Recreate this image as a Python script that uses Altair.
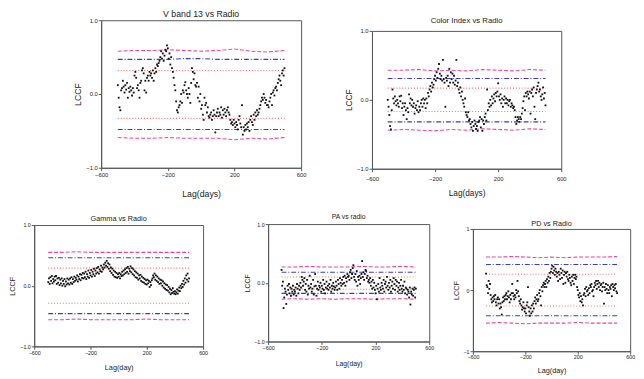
import altair as alt
import pandas as pd

FONT = "Liberation Sans"
TXT = "#222222"
FRAME = "#555555"

LAGS = list(range(-500, 501, 5))
BAND_LAGS = [-500, -400, -300, -200, -100, 0, 100, 200, 300, 400, 500]

# ---------------- Panel 1: V band 13 vs Radio ----------------
v_ccf = [
    0.12, -0.05, -0.18, -0.22, 0.05, 0.08, 0.18, 0.10, 0.02, 0.12,
    0.06, 0.15, -0.05, 0.08, 0.03, 0.10, 0.05, -0.02, 0.08, 0.02,
    0.25, 0.30, 0.22, 0.08, 0.12, 0.05, -0.05, 0.15, 0.18, 0.32,
    0.35, 0.28, 0.05, 0.18, 0.02, 0.22, 0.25, 0.18, 0.30, 0.25,
    0.28, 0.22, 0.32, 0.18, 0.28, 0.35, 0.30, 0.40, 0.38, 0.42,
    0.45, 0.50, 0.58, 0.48, 0.55, 0.45, 0.52, 0.60, 0.58, 0.66,
    0.62, 0.48, 0.55, 0.40, 0.50, 0.35, 0.30, 0.22, 0.12, 0.05,
    -0.10, -0.22, -0.25, -0.18, -0.15, -0.10, 0.00, -0.12, 0.05, 0.02,
    0.12, 0.16, 0.05, 0.00, -0.05, 0.08, 0.00, -0.12, 0.15, 0.35,
    0.30, 0.20, 0.28, 0.12, 0.10, 0.15, -0.05, 0.10, -0.10, 0.00,
    -0.20, -0.15, -0.28, -0.35, -0.05, -0.15, -0.12, -0.25, -0.18, -0.30,
    -0.32, -0.28, -0.25, -0.35, -0.30, -0.22, -0.28, -0.52, -0.30, -0.25,
    -0.20, -0.30, -0.25, -0.28, -0.18, -0.32, -0.22, -0.28, -0.20, -0.25,
    -0.30, -0.22, -0.18, -0.25, -0.28, -0.35, -0.40, -0.38, -0.42, -0.35,
    -0.40, -0.45, -0.38, -0.42, -0.48, -0.35, -0.30, -0.40, -0.45, -0.15,
    -0.55, -0.45, -0.50, -0.42, -0.48, -0.40, -0.45, -0.38, -0.50, -0.35,
    -0.30, -0.38, -0.42, -0.28, -0.35, -0.25, -0.30, -0.22, -0.28, -0.25,
    -0.20, -0.15, -0.10, -0.05, -0.08, 0.00, -0.05, -0.12, -0.08, -0.15,
    -0.15, -0.18, -0.10, -0.05, 0.00, -0.15, 0.02, 0.05, -0.02, 0.08,
    0.10, 0.05, 0.15, 0.20, 0.25, 0.18, 0.12, 0.28, 0.32, 0.25,
    0.35,
]
v_pink_up = [0.58, 0.59, 0.59, 0.60, 0.59, 0.58, 0.59, 0.61, 0.58, 0.57, 0.59]
v_pink_lo = [-0.59, -0.60, -0.60, -0.59, -0.60, -0.60, -0.60, -0.62, -0.60, -0.61, -0.59]
v_blue_up = [0.47, 0.47, 0.47, 0.47, 0.48, 0.48, 0.47, 0.47, 0.47, 0.47, 0.47]
v_blue_lo = [-0.48, -0.48, -0.48, -0.48, -0.48, -0.48, -0.48, -0.48, -0.48, -0.48, -0.48]
v_red_up = [0.32, 0.32, 0.32, 0.32, 0.32, 0.32, 0.32, 0.32, 0.32, 0.32, 0.32]
v_red_lo = [-0.33, -0.33, -0.33, -0.33, -0.33, -0.33, -0.33, -0.33, -0.33, -0.33, -0.33]

# ---------------- Panel 2: Color Index vs Radio ----------------
c_ccf = [
    0.00, -0.10, -0.22, -0.38, -0.43, -0.15, 0.15, 0.02, -0.05, 0.05,
    -0.02, -0.08, 0.00, -0.05, -0.10, 0.05, -0.02, 0.06, -0.12, -0.05,
    -0.22, -0.10, -0.05, -0.15, -0.28, -0.12, -0.18, 0.08, -0.05, 0.02,
    -0.08, 0.00, -0.10, -0.05, -0.20, -0.12, -0.08, -0.15, -0.02, -0.18,
    -0.10, -0.15, -0.05, 0.00, -0.10, 0.02, -0.05, 0.00, -0.12, 0.02,
    -0.05, 0.10, 0.05, 0.15, 0.20, 0.12, 0.25, 0.18, 0.22, 0.30,
    0.35, 0.28, 0.40, 0.32, 0.45, 0.52, 0.38, 0.30, 0.35, 0.28,
    0.58, 0.30, 0.25, -0.10, 0.32, 0.28, 0.35, 0.20, 0.45, 0.25,
    0.40, 0.30, 0.38, 0.25, 0.35, 0.22, 0.28, 0.58, 0.20, 0.25,
    0.15, 0.10, 0.18, 0.05, 0.12, 0.00, -0.05, -0.10, 0.02, -0.18,
    -0.22, -0.25, -0.18, -0.30, -0.28, -0.35, -0.40, -0.32, -0.45, -0.38,
    -0.30, -0.35, -0.42, -0.38, -0.45, -0.32, -0.30, -0.25, -0.40, -0.28,
    -0.45, -0.30, -0.35, -0.25, -0.20, -0.30, 0.15, -0.15, -0.05, -0.10,
    0.00, -0.08, 0.05, -0.05, 0.02, 0.08, -0.02, 0.10, 0.05, 0.12,
    0.24, 0.05, 0.00, 0.08, -0.05, 0.02, -0.10, 0.00, 0.05, -0.05,
    0.02, -0.05, 0.00, -0.08, -0.02, 0.00, -0.10, -0.05, -0.08, -0.12,
    -0.10, -0.15, -0.25, -0.35, -0.30, -0.25, -0.28, -0.32, -0.25, -0.28,
    -0.20, -0.12, -0.02, 0.05, -0.15, 0.10, 0.05, 0.12, 0.08, 0.02,
    0.12, -0.20, 0.10, 0.15, 0.05, 0.18, -0.10, -0.28, 0.10, 0.15,
    0.20, 0.25, 0.12, 0.15, 0.05, 0.00, 0.08, 0.18, 0.02, 0.10,
    -0.08,
]
c_pink_up = [0.43, 0.43, 0.44, 0.42, 0.43, 0.42, 0.44, 0.43, 0.42, 0.44, 0.43]
c_pink_lo = [-0.44, -0.43, -0.44, -0.45, -0.43, -0.44, -0.42, -0.43, -0.44, -0.42, -0.43]
c_blue_up = [0.31, 0.31, 0.31, 0.31, 0.31, 0.31, 0.31, 0.31, 0.31, 0.31, 0.31]
c_blue_lo = [-0.32, -0.32, -0.32, -0.32, -0.32, -0.32, -0.32, -0.32, -0.32, -0.32, -0.32]
c_red_up = [0.17, 0.17, 0.17, 0.17, 0.17, 0.17, 0.17, 0.17, 0.17, 0.17, 0.17]
c_red_lo = [-0.17, -0.17, -0.17, -0.17, -0.17, -0.17, -0.17, -0.17, -0.17, -0.17, -0.17]

# ---------------- Panel 3: Gamma vs Radio ----------------
g_ccf = [
    0.06, 0.12, 0.03, 0.14, 0.08, 0.16, 0.04, 0.11, 0.07, 0.15,
    0.09, 0.16, 0.03, 0.12, 0.05, 0.13, 0.01, 0.10, 0.04, 0.12,
    0.00, 0.08, 0.03, 0.11, -0.01, 0.07, 0.02, 0.12, 0.04, 0.10,
    0.02, 0.12, 0.05, 0.14, 0.03, 0.11, 0.06, 0.15, 0.08, 0.13,
    0.10, 0.17, 0.07, 0.15, 0.11, 0.19, 0.09, 0.18, 0.13, 0.21,
    0.12, 0.20, 0.14, 0.23, 0.11, 0.19, 0.15, 0.25, 0.13, 0.21,
    0.17, 0.26, 0.15, 0.23, 0.19, 0.28, 0.16, 0.25, 0.20, 0.29,
    0.22, 0.31, 0.20, 0.27, 0.24, 0.33, 0.23, 0.30, 0.27, 0.35,
    0.30, 0.38, 0.33, 0.41, 0.31, 0.37, 0.28, 0.35, 0.24, 0.30,
    0.21, 0.28, 0.18, 0.25, 0.15, 0.23, 0.14, 0.21, 0.13, 0.19,
    0.15, 0.21, 0.12, 0.19, 0.16, 0.23, 0.17, 0.25, 0.19, 0.27,
    0.21, 0.29, 0.23, 0.31, 0.20, 0.28, 0.24, 0.32, 0.22, 0.29,
    0.19, 0.27, 0.17, 0.24, 0.14, 0.22, 0.13, 0.20, 0.10, 0.17,
    0.12, 0.18, 0.08, 0.15, 0.06, 0.13, 0.05, 0.11, 0.03, 0.09,
    0.02, 0.10, 0.04, 0.08, -0.02, 0.06, 0.01, 0.09, 0.12, 0.17,
    0.14, 0.20, 0.10, 0.17, 0.08, 0.15, 0.06, 0.12, 0.03, 0.10,
    0.04, 0.09, 0.00, 0.07, -0.03, 0.04, -0.05, 0.02, -0.07, 0.01,
    -0.08, -0.02, -0.11, -0.05, -0.14, -0.07, -0.12, -0.04, -0.10, -0.13,
    -0.09, -0.14, -0.11, -0.06, -0.13, -0.08, -0.03, -0.09, 0.00, -0.04,
    0.03, -0.02, 0.08, 0.02, 0.12, 0.05, 0.17, 0.10, 0.20, 0.07,
    0.12,
]
g_pink_up = [0.55, 0.55, 0.56, 0.55, 0.55, 0.55, 0.55, 0.55, 0.55, 0.55, 0.55]
g_pink_lo = [-0.56, -0.56, -0.55, -0.56, -0.56, -0.56, -0.56, -0.55, -0.56, -0.56, -0.56]
g_blue_up = [0.46, 0.46, 0.46, 0.46, 0.46, 0.46, 0.46, 0.46, 0.46, 0.46, 0.46]
g_blue_lo = [-0.46, -0.46, -0.46, -0.46, -0.46, -0.46, -0.46, -0.46, -0.46, -0.46, -0.46]
g_red_up = [0.29, 0.29, 0.29, 0.29, 0.29, 0.29, 0.29, 0.29, 0.29, 0.29, 0.29]
g_red_lo = [-0.29, -0.29, -0.29, -0.29, -0.29, -0.29, -0.29, -0.29, -0.29, -0.29, -0.29]

# ---------------- Panel 4: PA vs radio ----------------
pa_ccf = [
    0.22, -0.05, 0.02, -0.43, -0.25, -0.10, -0.15, -0.36, -0.20, -0.05,
    -0.12, -0.02, -0.18, -0.08, -0.22, -0.10, -0.15, -0.05, -0.20, -0.12,
    -0.15, -0.08, -0.22, -0.02, -0.10, -0.18, -0.05, -0.12, 0.00, -0.08,
    0.10, 0.05, -0.05, 0.02, 0.08, -0.12, -0.02, -0.15, 0.05, -0.20,
    -0.05, -0.10, 0.12, -0.08, -0.02, -0.15, -0.10, 0.05, -0.20, -0.06,
    0.15, -0.05, -0.22, -0.10, 0.02, -0.12, -0.05, -0.08, 0.00, -0.15,
    -0.05, -0.10, 0.05, -0.12, -0.02, -0.18, -0.08, 0.02, -0.10, -0.05,
    -0.12, -0.02, -0.08, 0.05, -0.15, -0.05, -0.10, 0.00, -0.06, -0.12,
    -0.08, 0.02, -0.05, -0.12, 0.05, -0.02, -0.10, 0.08, 0.00, -0.05,
    0.05, -0.02, 0.10, 0.00, 0.12, -0.05, 0.08, 0.02, 0.15, 0.10,
    0.12, 0.05, 0.18, 0.22, 0.08, 0.15, 0.25, 0.30, 0.10, 0.05,
    0.15, 0.02, 0.20, -0.05, 0.10, 0.05, 0.12, -0.02, 0.08, 0.15,
    0.37, 0.10, 0.18, 0.05, 0.15, 0.22, 0.20, 0.08, 0.12, 0.02,
    0.05, 0.00, 0.08, -0.05, 0.02, -0.10, 0.05, -0.08, 0.00, -0.12,
    -0.18, -0.05, -0.28, -0.10, -0.02, -0.15, 0.08, -0.08, -0.12, 0.00,
    -0.05, -0.10, 0.05, -0.15, -0.02, 0.02, -0.08, 0.10, -0.05, -0.12,
    0.00, -0.08, 0.05, -0.15, -0.05, 0.02, -0.10, 0.08, -0.02, -0.12,
    0.05, -0.05, 0.02, -0.15, -0.08, 0.00, -0.12, -0.05, 0.05, -0.10,
    -0.15, -0.05, -0.12, 0.02, -0.18, -0.08, -0.10, -0.20, -0.12, -0.15,
    -0.25, -0.08, -0.37, -0.15, -0.20, -0.10, -0.22, -0.12, -0.08, -0.25,
    -0.10,
]
pa_pink_up = [0.27, 0.27, 0.28, 0.27, 0.27, 0.27, 0.28, 0.27, 0.27, 0.28, 0.27]
pa_pink_lo = [-0.28, -0.27, -0.28, -0.27, -0.28, -0.27, -0.27, -0.28, -0.27, -0.27, -0.28]
pa_blue_up = [0.18, 0.18, 0.18, 0.18, 0.18, 0.18, 0.18, 0.18, 0.18, 0.18, 0.18]
pa_blue_lo = [-0.18, -0.18, -0.18, -0.18, -0.18, -0.18, -0.18, -0.18, -0.18, -0.18, -0.18]
pa_red_up = [0.10, 0.10, 0.10, 0.10, 0.10, 0.10, 0.10, 0.10, 0.10, 0.10, 0.10]
pa_red_lo = [-0.11, -0.11, -0.11, -0.11, -0.11, -0.11, -0.11, -0.11, -0.11, -0.11, -0.11]

# ---------------- Panel 5: PD vs Radio ----------------
pd_ccf = [
    0.27, 0.08, 0.05, -0.05, 0.15, 0.02, 0.10, -0.08, -0.15, -0.20,
    -0.12, -0.18, -0.10, -0.15, -0.08, -0.20, -0.25, -0.15, -0.12, -0.22,
    -0.15, -0.30, -0.22, -0.28, -0.40, -0.20, -0.12, -0.18, -0.10, -0.15,
    -0.08, -0.05, -0.15, -0.10, -0.02, -0.12, -0.20, -0.08, -0.15, -0.05,
    0.10, -0.05, -0.10, -0.15, -0.08, -0.12, 0.00, -0.05, 0.15, -0.02,
    -0.10, -0.18, -0.22, -0.15, -0.25, -0.32, -0.28, -0.20, -0.30, -0.35,
    -0.30, -0.38, -0.25, -0.20, 0.05, -0.28, -0.35, -0.42, -0.30, -0.38,
    -0.25, -0.35, -0.22, -0.30, -0.18, -0.12, -0.22, -0.15, -0.08, -0.18,
    -0.15, -0.05, 0.00, -0.10, -0.25, 0.05, -0.02, 0.08, 0.12, 0.05,
    0.10, 0.15, 0.05, 0.18, 0.12, 0.22, 0.15, 0.28, 0.20, 0.30,
    0.35, 0.40, 0.28, 0.38, 0.32, 0.25, 0.35, 0.30, 0.22, 0.28,
    0.15, 0.30, 0.25, 0.18, 0.35, 0.28, 0.20, 0.32, 0.10, 0.25,
    0.30, 0.12, 0.28, 0.22, 0.30, 0.18, 0.15, 0.25, 0.20, 0.12,
    0.08, 0.22, 0.15, 0.25, 0.10, 0.20, 0.25, 0.18, 0.22, 0.05,
    0.00, -0.08, -0.12, -0.05, -0.18, -0.10, -0.20, -0.15, -0.25, -0.08,
    -0.05, 0.02, -0.10, 0.05, -0.02, 0.00, -0.08, 0.03, -0.05, 0.08,
    0.05, 0.10, -0.02, 0.00, -0.10, 0.05, 0.12, 0.08, 0.15, 0.02,
    0.10, 0.15, 0.05, 0.12, 0.00, 0.08, 0.10, -0.02, 0.05, 0.12,
    -0.22, 0.05, 0.00, 0.10, 0.02, -0.05, 0.08, 0.00, -0.05, 0.05,
    0.02, 0.08, -0.10, 0.10, 0.05, 0.00, 0.08, 0.03, 0.10, -0.02,
    -0.05,
]
pd_pink_up = [0.54, 0.54, 0.55, 0.54, 0.53, 0.54, 0.53, 0.54, 0.54, 0.54, 0.55]
pd_pink_lo = [-0.54, -0.53, -0.54, -0.55, -0.54, -0.54, -0.54, -0.53, -0.54, -0.54, -0.54]
pd_blue_up = [0.42, 0.42, 0.42, 0.42, 0.42, 0.42, 0.42, 0.42, 0.42, 0.42, 0.42]
pd_blue_lo = [-0.42, -0.42, -0.42, -0.42, -0.42, -0.42, -0.42, -0.42, -0.42, -0.42, -0.42]
pd_red_up = [0.26, 0.26, 0.26, 0.26, 0.26, 0.26, 0.26, 0.26, 0.26, 0.26, 0.26]
pd_red_lo = [-0.26, -0.26, -0.26, -0.26, -0.26, -0.26, -0.26, -0.26, -0.26, -0.26, -0.26]

X_TICKS = [-600, -500, -400, -300, -200, -100, 0, 100, 200, 300, 400, 500, 600]
Y_TICKS = [-1.0, -0.75, -0.5, -0.25, 0.0, 0.25, 0.5, 0.75, 1.0]
Y_TICKS_INT = [-1.0, -0.5, 0.0, 0.5, 1.0]

BAND_NAMES = ["pink", "blue", "red"]
BAND_COLORS = ["#F0449A", "#3A3ACC", "#FF6A6A"]
BAND_DASH = [[4, 2], [5, 2, 1, 2], [1, 2]]


def band_frame(pu, pl, bu, bl, ru, rl):
    rows = []
    for name, up, lo in [("pink", pu, pl), ("blue", bu, bl), ("red", ru, rl)]:
        for lag, v in zip(BAND_LAGS, up):
            rows.append({"lag": lag, "val": v, "band": name, "key": name + "_u"})
        for lag, v in zip(BAND_LAGS, lo):
            rows.append({"lag": lag, "val": v, "band": name, "key": name + "_l"})
    return pd.DataFrame(rows)


def panel(title, xtitle, ccf, bands, w, h, fs_title, fs_axis, fs_label,
          int_labels=False, ytitle_pad=3, xtitle_pad=4, xlabel_pad=0, title_offset=3):
    pts = pd.DataFrame({"lag": LAGS, "ccf": ccf})
    bdf = band_frame(*bands)
    xax = alt.Axis(
        values=X_TICKS, format="d", grid=False,
        labelExpr="datum.value % 200 === 0 ? datum.label : ''",
        tickSize={"condition": {"test": "datum.value % 200 !== 0", "value": 1.5}, "value": 3},
        labelFont=FONT, labelFontSize=fs_label, labelColor=TXT, labelPadding=xlabel_pad,
        title=xtitle, titleFont=FONT, titleFontSize=fs_axis, titleFontWeight="normal",
        titleColor=TXT, titlePadding=xtitle_pad,
        domainColor=FRAME, tickColor=FRAME, labelFlush=False, labelOverlap=False,
    )
    if int_labels:
        yvals = Y_TICKS_INT
        ylabel = "abs(datum.value - round(datum.value)) < 0.001 ? format(datum.value, 'd') : ''"
        ytest = "abs(datum.value - round(datum.value)) > 0.001"
    else:
        yvals = Y_TICKS
        ylabel = "abs(datum.value*2 - round(datum.value*2)) < 0.001 ? format(datum.value, '.1f') : ''"
        ytest = "abs(datum.value*2 - round(datum.value*2)) > 0.001"
    yax = alt.Axis(
        values=yvals, grid=False, labelExpr=ylabel,
        tickSize={"condition": {"test": ytest, "value": 1.5}, "value": 3},
        labelFont=FONT, labelFontSize=fs_label, labelColor=TXT, labelPadding=1,
        title="LCCF", titleFont=FONT, titleFontSize=fs_axis, titleFontWeight="normal",
        titleColor=TXT, titlePadding=ytitle_pad,
        domainColor=FRAME, tickColor=FRAME, labelFlush=False, labelOverlap=False,
    )
    xs = alt.Scale(domain=[-600, 600], nice=False)
    ys = alt.Scale(domain=[-1, 1], nice=False)
    lines = alt.Chart(bdf).mark_line(strokeWidth=1.1).encode(
        x=alt.X("lag:Q", scale=xs, axis=xax),
        y=alt.Y("val:Q", scale=ys, axis=yax),
        color=alt.Color("band:N", scale=alt.Scale(domain=BAND_NAMES, range=BAND_COLORS), legend=None),
        strokeDash=alt.StrokeDash("band:N", scale=alt.Scale(domain=BAND_NAMES, range=BAND_DASH), legend=None),
        detail="key:N",
    )
    dots = alt.Chart(pts).mark_point(shape="square", filled=True, size=3.5, color="#111111", opacity=1).encode(
        x=alt.X("lag:Q", scale=xs),
        y=alt.Y("ccf:Q", scale=ys),
    )
    return alt.layer(lines, dots).properties(
        width=w, height=h,
        title=alt.TitleParams(title, font=FONT, fontSize=fs_title, fontWeight="normal",
                              color=TXT, anchor="middle", offset=title_offset),
        view=alt.ViewBackground(stroke=FRAME, strokeWidth=1),
    )


def spacer(w, h=1):
    return alt.Chart(pd.DataFrame({"a": [0]})).mark_point(opacity=0, size=1).encode(
        x=alt.value(0), y=alt.value(0)
    ).properties(width=w, height=h,
                 view=alt.ViewBackground(stroke="transparent", strokeWidth=0))


def wrap(ch, h):
    return alt.vconcat(spacer(1, h), ch, spacing=0)


p1 = panel("V band 13 vs Radio", "Lag(days)", v_ccf,
           (v_pink_up, v_pink_lo, v_blue_up, v_blue_lo, v_red_up, v_red_lo),
           206, 152, 9, 9, 6, ytitle_pad=3, xtitle_pad=13, xlabel_pad=1, title_offset=-2)
p2 = panel("Color Index vs Radio", "Lag(days)", c_ccf,
           (c_pink_up, c_pink_lo, c_blue_up, c_blue_lo, c_red_up, c_red_lo),
           195, 142, 8, 8.5, 6, ytitle_pad=3, xtitle_pad=8, xlabel_pad=4, title_offset=3)
p3 = panel("Gamma vs Radio", "Lag(day)", g_ccf,
           (g_pink_up, g_pink_lo, g_blue_up, g_blue_lo, g_red_up, g_red_lo),
           174, 125, 7.5, 7.5, 5.5, ytitle_pad=3, xtitle_pad=8, xlabel_pad=1, title_offset=1)
p4 = panel("PA vs radio", "Lag(day)", pa_ccf,
           (pa_pink_up, pa_pink_lo, pa_blue_up, pa_blue_lo, pa_red_up, pa_red_lo),
           166, 121, 7, 7, 5.5, ytitle_pad=3, xtitle_pad=9, xlabel_pad=1, title_offset=2)
p5 = panel("PD vs Radio", "Lag(day)", pd_ccf,
           (pd_pink_up, pd_pink_lo, pd_blue_up, pd_blue_lo, pd_red_up, pd_red_lo),
           162, 126, 7.5, 7.5, 5.5, int_labels=True, ytitle_pad=3, xtitle_pad=6, xlabel_pad=1, title_offset=0)

row1 = alt.hconcat(
    spacer(40),
    wrap(p1, 1),
    spacer(37),
    wrap(p2, 8),
    spacing=0,
)
row2 = alt.hconcat(
    wrap(p3, 3),
    spacer(34),
    wrap(p4, 1),
    spacer(16),
    wrap(p5, 8),
    spacing=0,
)

chart = alt.vconcat(row1, row2, spacing=11).properties(
    padding={"left": 0, "top": -6, "right": 0, "bottom": 0}
).configure_view(stroke=FRAME).configure_concat(spacing=0)

chart.save("out.html", embed_options={"renderer": "svg", "actions": False})
